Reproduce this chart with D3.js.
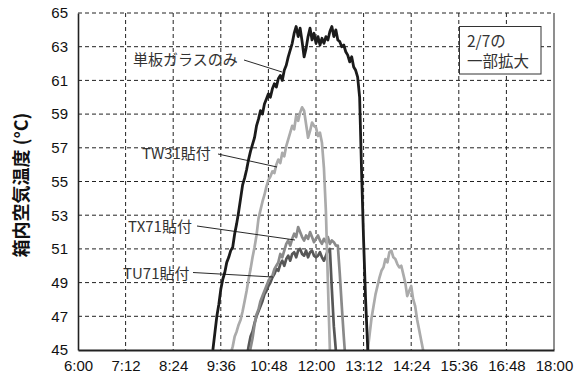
<!DOCTYPE html>
<html><head><meta charset="utf-8">
<script src="https://cdn.jsdelivr.net/npm/d3@7"></script>
<style>body{margin:0;background:#fff}svg{display:block}</style>
</head><body>
<svg id="chart" width="575" height="380"></svg>
<script>
// ---- data ----
const xTickLabels = ["6:00","7:12","8:24","9:36","10:48","12:00","13:12","14:24","15:36","16:48","18:00"];
const yTicks = [45,47,49,51,53,55,57,59,61,63,65];
const sampleStepMin = 3;

const seriesNames = ["単板ガラスのみ","TW31貼付","TX71貼付","TU71貼付"];
const seriesStart = ["9:21","9:48","10:15","10:12"];

const singleGlass = [44.2,45.0,46.0,47.0,47.7,48.6,49.2,49.6,50.2,50.5,50.9,51.1,51.9,52.5,53.2,54.0,54.8,55.2,55.7,56.3,
  56.8,57.2,57.6,58.3,58.7,59.2,59.0,59.6,59.9,60.2,60.0,60.5,60.8,60.6,61.1,61.3,61.0,61.6,61.9,62.4,
  62.8,63.2,63.8,64.2,63.6,64.1,63.3,62.4,62.9,63.6,64.1,63.4,63.8,63.2,63.6,63.1,63.5,63.2,63.6,63.4,
  63.9,64.2,63.6,64.0,63.4,63.3,63.0,63.1,62.7,62.5,62.1,62.4,61.8,61.6,61.2,60.0,55.5,51.5,48.0,45.3,43.0];

const tw31 = [44.3,44.8,45.2,45.8,46.1,46.5,46.8,47.3,47.9,48.5,49.2,49.8,50.5,51.1,51.8,52.8,53.3,53.8,54.2,54.7,
  55.1,55.3,55.6,55.5,56.0,56.3,56.1,56.7,56.5,57.1,57.5,57.9,58.3,58.1,58.9,58.6,59.1,59.4,59.2,58.4,
  57.6,58.0,58.5,58.3,58.2,57.7,57.9,57.3,55.8,53.2,49.0,45.0,42.5,41.6,41.0,40.6,40.4,40.2,40.1,40.0,
  40.0,40.1,40.2,40.4,40.7,41.1,41.6,42.3,43.2,44.1,44.9,45.9,46.9,47.6,48.3,48.8,49.3,49.7,49.9,50.4,
  50.2,50.8,50.9,50.5,50.4,50.1,49.9,50.0,49.5,49.0,48.2,48.5,48.8,48.0,47.6,46.8,46.2,45.6,45.0,44.3,43.8];

const tx71 = [43.8,44.5,45.1,45.7,46.5,47.1,47.4,47.9,48.2,48.5,48.8,49.1,49.3,49.4,49.8,50.0,50.2,50.7,50.5,50.9,
  51.3,51.5,51.2,51.6,51.9,51.7,52.3,52.0,51.7,51.5,51.8,51.6,52.0,51.7,51.4,51.6,51.8,51.5,51.3,51.6,
  51.4,51.7,51.3,51.5,51.4,51.2,51.2,49.5,47.6,45.8,44.2];

const tu71 = [43.9,44.5,45.2,45.8,46.1,46.6,47.0,47.3,47.6,47.9,48.3,48.5,48.8,49.0,49.3,49.5,49.8,49.7,50.1,50.3,
  50.0,50.4,50.6,50.3,50.7,50.8,50.5,50.9,51.0,50.7,50.6,50.9,50.5,50.8,50.9,50.6,50.5,50.6,50.8,50.5,
  50.3,50.6,50.9,51.0,48.6,46.4,45.0,43.8];

const seriesValues = [singleGlass, tw31, tx71, tu71];
const seriesColors = ["#1b1b1b","#ababab","#8a8a8a","#575757"];
const legendLines = ["2/7の","一部拡大"];
const yTitle = "箱内空気温度 (°C)";

// ---- helpers ----
const toMin = s => { const [h,m] = s.split(":").map(Number); return h*60+m; };

const svg = d3.select("#chart");
const M = {left:78, right:554, top:13, bottom:350};
const x = d3.scaleLinear().domain([toMin("6:00"), toMin("18:00")]).range([M.left, M.right]);
const y = d3.scaleLinear().domain([45,65]).range([M.bottom, M.top]);

svg.append("defs").append("clipPath").attr("id","plotclip")
  .append("rect").attr("x",M.left).attr("y",M.top).attr("width",M.right-M.left).attr("height",M.bottom-M.top);

// grid
const grid = svg.append("g");
grid.selectAll("line.h").data(yTicks.filter(v=>v>45)).enter().append("line")
  .attr("x1",M.left).attr("x2",M.right).attr("y1",d=>y(d)).attr("y2",d=>y(d))
  .attr("stroke","#222").attr("stroke-width",1).attr("stroke-dasharray","4,3");
grid.selectAll("line.v").data(xTickLabels.slice(1,-1)).enter().append("line")
  .attr("x1",d=>x(toMin(d))).attr("x2",d=>x(toMin(d))).attr("y1",M.top).attr("y2",M.bottom)
  .attr("stroke","#222").attr("stroke-width",1).attr("stroke-dasharray","4,3");

// right border
svg.append("line").attr("x1",M.right).attr("x2",M.right).attr("y1",M.top).attr("y2",M.bottom)
  .attr("stroke","#444").attr("stroke-width",1.2);

// series
const line = d3.line().x(d=>x(d[0])).y(d=>y(d[1]));
const order = [3,2,1,0];
const lines = svg.append("g").attr("clip-path","url(#plotclip)");
order.forEach(i=>{
  const t0 = toMin(seriesStart[i]);
  const pts = seriesValues[i].map((v,k)=>[t0 + k*sampleStepMin, v]);
  lines.append("path").attr("d",line(pts)).attr("fill","none")
    .attr("stroke",seriesColors[i]).attr("stroke-width",i===0?2.8:2.7).attr("stroke-linejoin","round");
});

// axes
const xAxis = d3.axisBottom(x).tickValues(xTickLabels.map(toMin)).tickFormat((d,i)=>xTickLabels[i]).tickSize(0).tickPadding(10);
const yAxis = d3.axisLeft(y).tickValues(yTicks).tickFormat(d=>d).tickSize(0).tickPadding(10);
const gx = svg.append("g").attr("transform",`translate(0,${M.bottom})`).call(xAxis);
const gy = svg.append("g").attr("transform",`translate(${M.left},0)`).call(yAxis);
gx.select(".domain").attr("stroke","#222").attr("stroke-width",2);
gy.select(".domain").attr("stroke","#222").attr("stroke-width",1.6);
[gx,gy].forEach(g=>g.selectAll("text").attr("font-family","Liberation Sans, Arial, sans-serif").attr("font-size",15).attr("fill","#111"));

// y title
svg.append("text").attr("transform","translate(20,185) rotate(-90)")
  .attr("text-anchor","middle").attr("dominant-baseline","central")
  .attr("font-family","Noto Sans CJK JP").attr("font-weight","bold").attr("font-size",18).attr("fill","#111")
  .text(yTitle);

// annotations
const ann = [
  {name:0, tx:133, ty:58, lx1:244, ly1:60, lx2:282, ly2:72},
  {name:1, tx:142, ty:152, lx1:218, ly1:154, lx2:277, ly2:167},
  {name:2, tx:128, ty:225, lx1:197, ly1:226, lx2:295, ly2:240},
  {name:3, tx:123, ty:272, lx1:193, ly1:272.5, lx2:273, ly2:277}
];
const ag = svg.append("g");
ann.forEach(a=>{
  ag.append("line").attr("x1",a.lx1).attr("y1",a.ly1).attr("x2",a.lx2).attr("y2",a.ly2)
    .attr("stroke","#111").attr("stroke-width",0.9);
  ag.append("text").attr("x",a.tx).attr("y",a.ty).attr("dominant-baseline","central")
    .attr("font-family","Noto Sans CJK JP").attr("font-size",15).attr("fill","#333")
    .text(seriesNames[a.name]);
});

// legend-ish box
const lg = svg.append("g");
lg.append("rect").attr("x",459.5).attr("y",26.5).attr("width",81.5).attr("height",47.5)
  .attr("fill","#fff").attr("stroke","#333").attr("stroke-width",1);
const lt = lg.append("text").attr("font-family","Noto Sans CJK JP").attr("font-size",15.5).attr("fill","#333");
legendLines.forEach((t,i)=>{
  lt.append("tspan").attr("x",467).attr("y",47+i*20).text(t);
});
</script>
</body></html>
